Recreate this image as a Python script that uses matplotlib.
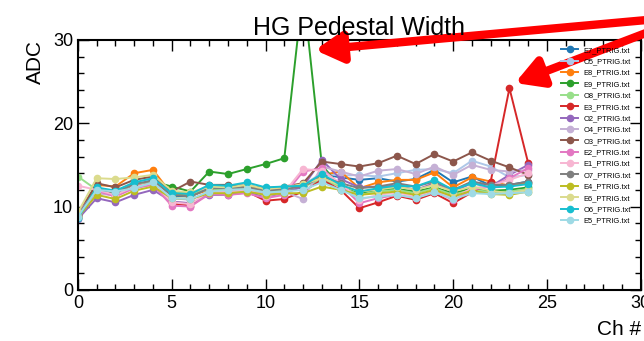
import matplotlib
matplotlib.use('Agg')
import matplotlib.pyplot as plt
from matplotlib.ticker import MultipleLocator

plt.rcParams['font.family'] = ['Liberation Sans', 'DejaVu Sans']

channels = list(range(25))

labels = ['E7_PTRIG.txt', 'O5_PTRIG.txt', 'E8_PTRIG.txt', 'E9_PTRIG.txt',
          'O8_PTRIG.txt', 'E3_PTRIG.txt', 'O2_PTRIG.txt', 'O4_PTRIG.txt',
          'O3_PTRIG.txt', 'E2_PTRIG.txt', 'E1_PTRIG.txt', 'O7_PTRIG.txt',
          'E4_PTRIG.txt', 'E6_PTRIG.txt', 'O6_PTRIG.txt', 'E5_PTRIG.txt']

colors = ['#1f77b4', '#aec7e8', '#ff7f0e', '#2ca02c', '#98df8a', '#d62728',
          '#9467bd', '#c5b0d5', '#8c564b', '#e377c2', '#f7b6d2', '#7f7f7f',
          '#bcbd22', '#dbdb8d', '#17becf', '#9edae5']

# pedestal widths (ADC) per channel, one list per file
e7 = [8.8, 12.0, 11.6, 12.6, 13.2, 11.3, 11.2, 12.2, 12.1, 12.4, 11.8, 12.0, 12.3, 13.9, 13.5, 13.2, 13.4, 13.0, 13.3, 14.4, 12.9, 13.6, 12.5, 12.6, 13.0]
o5 = [9.0, 12.2, 11.8, 12.8, 13.4, 11.5, 11.4, 12.4, 12.3, 12.6, 12.0, 12.2, 12.6, 14.0, 13.7, 13.8, 13.6, 14.0, 14.4, 14.5, 14.0, 15.5, 14.8, 13.5, 13.8]
e8 = [9.2, 12.6, 12.4, 14.0, 14.4, 11.5, 11.3, 12.0, 11.9, 12.4, 12.0, 12.2, 12.5, 13.8, 14.2, 12.2, 12.9, 13.2, 13.2, 14.1, 12.3, 13.5, 13.0, 12.5, 12.8]
e9 = [8.6, 11.8, 11.6, 12.5, 13.0, 12.4, 11.8, 14.2, 13.9, 14.5, 15.1, 15.8, 36.0, 15.0, 12.3, 11.6, 12.0, 12.1, 11.8, 12.3, 11.6, 12.2, 11.9, 12.0, 12.3]
o8 = [13.6, 12.0, 11.8, 12.6, 13.0, 11.8, 11.6, 12.0, 12.1, 12.3, 11.9, 12.0, 12.4, 13.2, 12.4, 11.4, 11.8, 12.0, 11.6, 12.2, 11.4, 12.0, 11.7, 11.8, 12.1]
e3 = [8.9, 11.8, 11.4, 12.4, 12.8, 10.4, 10.1, 11.6, 11.5, 11.8, 10.7, 10.9, 11.8, 13.2, 12.0, 9.8, 10.5, 11.3, 10.8, 11.6, 10.4, 11.7, 13.0, 24.2, 15.2]
o2 = [8.5, 11.0, 10.5, 11.4, 12.0, 10.6, 10.4, 11.4, 11.4, 11.7, 11.2, 11.6, 12.4, 15.6, 13.3, 12.3, 12.4, 12.5, 12.0, 12.8, 11.8, 12.8, 12.4, 13.8, 15.0]
o4 = [8.8, 11.6, 11.3, 12.3, 12.8, 11.0, 10.8, 11.8, 11.8, 12.0, 11.5, 11.8, 10.9, 14.8, 14.2, 13.6, 14.3, 14.5, 13.9, 14.8, 13.8, 15.0, 14.4, 14.2, 14.4]
o3 = [9.0, 12.8, 12.3, 13.2, 13.6, 11.8, 13.0, 12.6, 12.6, 12.5, 12.2, 12.4, 12.8, 15.4, 15.1, 14.8, 15.2, 16.1, 15.1, 16.3, 15.4, 16.5, 15.5, 14.7, 13.8]
e2 = [9.2, 11.9, 11.2, 12.2, 12.6, 10.1, 10.0, 11.5, 11.4, 11.6, 11.0, 11.4, 14.2, 14.6, 12.6, 10.4, 11.0, 11.4, 11.0, 11.8, 10.8, 12.0, 12.4, 13.4, 14.6]
e1 = [12.5, 12.0, 11.4, 12.4, 12.8, 10.5, 10.3, 11.8, 11.7, 12.0, 11.3, 11.7, 14.5, 14.3, 12.8, 10.8, 11.4, 11.7, 11.2, 12.0, 11.0, 12.2, 12.5, 13.2, 14.0]
o7 = [9.0, 12.1, 11.7, 12.7, 13.1, 11.4, 11.2, 12.2, 12.2, 12.3, 11.9, 12.1, 12.4, 13.6, 12.8, 12.2, 12.4, 12.8, 12.4, 13.0, 12.0, 13.0, 12.6, 12.6, 13.0]
e4 = [8.7, 11.4, 10.9, 11.9, 12.4, 11.0, 10.9, 11.6, 11.6, 11.8, 11.4, 11.6, 11.6, 12.4, 12.0, 11.4, 11.6, 11.8, 11.4, 12.0, 11.2, 11.9, 11.5, 11.4, 11.8]
e6 = [9.3, 13.4, 13.3, 13.5, 13.8, 11.9, 11.7, 12.4, 12.3, 12.6, 12.1, 12.3, 12.7, 13.4, 12.6, 11.8, 12.0, 12.4, 12.0, 12.6, 11.8, 12.4, 11.9, 11.6, 12.0]
o6 = [8.6, 12.3, 11.9, 12.9, 13.4, 11.6, 11.5, 12.6, 12.5, 12.9, 12.3, 12.4, 12.5, 13.9, 12.6, 11.8, 12.2, 12.5, 12.4, 13.2, 12.0, 12.8, 12.3, 12.4, 12.7]
e5 = [8.8, 12.0, 11.8, 12.2, 12.9, 11.0, 10.9, 11.8, 12.0, 12.1, 11.7, 11.8, 12.0, 12.9, 12.0, 11.0, 11.2, 11.4, 11.0, 11.7, 10.9, 11.6, 11.5, 11.6, 11.7]

series = [e7, o5, e8, e9, o8, e3, o2, o4, o3, e2, e1, o7, e4, e6, o6, e5]

fig = plt.figure(figsize=(6.44, 3.41), dpi=100)
ax = fig.add_axes([0.121, 0.150, 0.874, 0.733])

for vals, lab, col in zip(series, labels, colors):
    ax.plot(channels, vals, '-o', color=col, label=lab, lw=1.4, ms=4.5)

ax.set_xlim(0, 30)
ax.set_ylim(0, 30)
ax.xaxis.set_major_locator(MultipleLocator(5))
ax.xaxis.set_minor_locator(MultipleLocator(1))
ax.yaxis.set_major_locator(MultipleLocator(10))
ax.yaxis.set_minor_locator(MultipleLocator(2))
ax.tick_params(which='both', direction='in', top=True, right=True, labelsize=13)
ax.tick_params(which='major', length=8, width=1)
ax.tick_params(which='minor', length=4, width=1)
for sp in ax.spines.values():
    sp.set_linewidth(1.5)

ax.set_title('HG Pedestal Width', fontsize=18, pad=3)
ax.set_ylabel('ADC', fontsize=15, loc='top', labelpad=6)
ax.set_xlabel('Ch #', fontsize=15, loc='right', labelpad=6)

ax.legend(loc='upper right', bbox_to_anchor=(0.995, 1.0), fontsize=5.4,
          frameon=False, labelspacing=0.55, handlelength=2.2, markerscale=1.0)

# red arrows pointing at the two spikes
arrow_kw = dict(arrowstyle='-|>,head_length=1.6,head_width=0.9', color='red',
                lw=6, shrinkA=0, shrinkB=0)
ax.annotate('', xy=(315 / 644, 1 - 50 / 341), xycoords='figure fraction',
            xytext=(680 / 644, 1 - 17 / 341), textcoords='figure fraction',
            arrowprops=arrow_kw, annotation_clip=False)
ax.annotate('', xy=(515 / 644, 1 - 83 / 341), xycoords='figure fraction',
            xytext=(680 / 644, 1 - 20 / 341), textcoords='figure fraction',
            arrowprops=arrow_kw, annotation_clip=False)

fig.savefig('out.png', dpi=100)
